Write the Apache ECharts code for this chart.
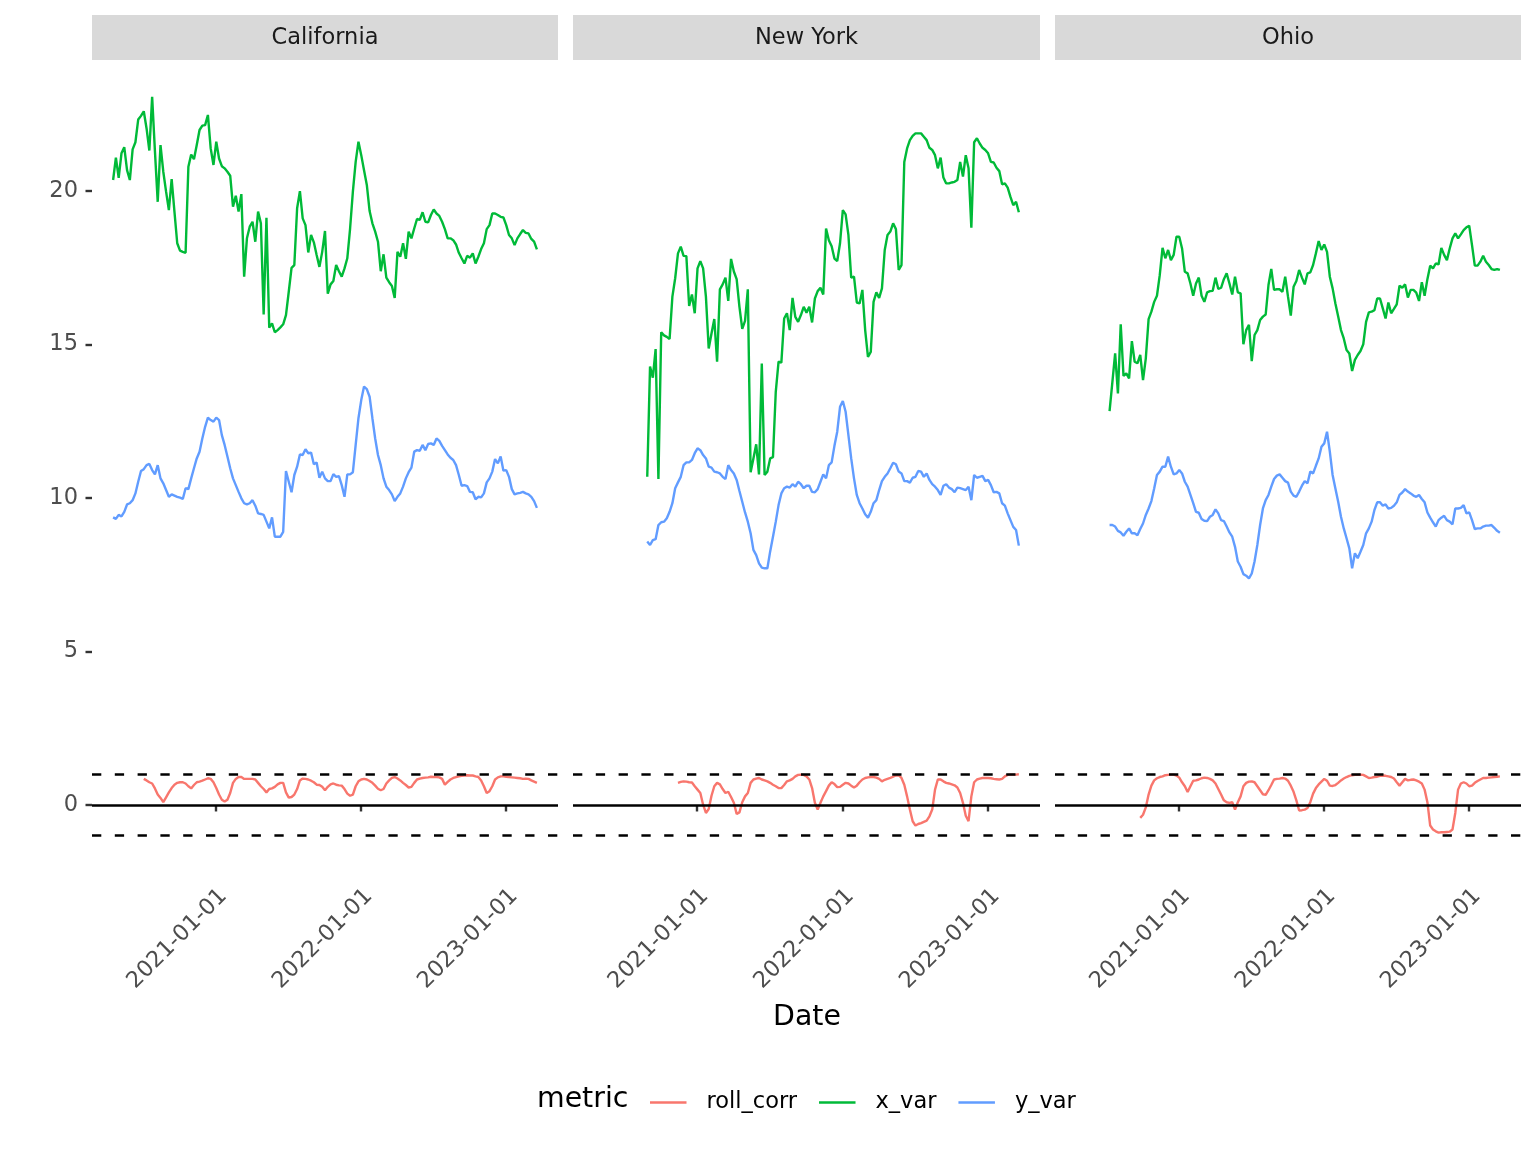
<!DOCTYPE html>
<html>
<head>
<meta charset="utf-8">
<script src="https://cdn.jsdelivr.net/npm/echarts@6.0.0/dist/echarts.min.js"></script>
<style>
  html, body { margin: 0; padding: 0; background: #ffffff; }
  #chart { width: 1536px; height: 1152px; }
</style>
</head>
<body>
<div id="chart"></div>
<script>
// ---------------- DATA ----------------
// Weekly observations; week 0 = 2020-04-19
const firstWeekDate = [2020, 3, 19];
const panelNames = ['California', 'New York', 'Ohio'];
const metricNames = ['roll_corr', 'x_var', 'y_var'];
const xTickLabels = ['2021-01-01', '2022-01-01', '2023-01-01'];
const yTickValues = [0, 5, 10, 15, 20];
const refLines = [0, 1, -1];

// California (x_var / y_var start week 0, roll_corr start week 11)
const caXVarStart = 0;
const caXVar = [
  20.36,21.09,20.43,21.23,21.43,20.68,20.36,21.36,21.59,22.33,
  22.45,22.6,22.04,21.32,23.07,21.3,19.65,21.5,20.63,19.98,
  19.38,20.39,19.33,18.3,18.06,18.02,17.99,20.79,21.19,21.04,
  21.5,21.99,22.13,22.15,22.48,21.39,20.85,21.61,21.06,20.81,
  20.74,20.63,20.5,19.49,19.85,19.33,19.9,17.21,18.46,18.84,
  19.0,18.35,19.33,18.95,15.98,19.13,15.55,15.69,15.4,15.47,
  15.56,15.66,15.96,16.72,17.5,17.59,19.44,20.0,19.11,18.89,
  18.0,18.57,18.33,17.92,17.53,18.02,18.7,16.66,16.96,17.07,
  17.59,17.39,17.21,17.48,17.81,18.78,19.98,20.95,21.61,21.17,
  20.68,20.2,19.35,18.95,18.68,18.35,17.39,17.94,17.18,17.03,
  16.91,16.52,18.02,17.86,18.3,17.79,18.68,18.46,18.78,19.09,
  19.06,19.31,19.0,18.98,19.22,19.4,19.27,19.19,19.0,18.76,
  18.46,18.46,18.4,18.26,17.99,17.81,17.64,17.89,17.83,17.97,
  17.64,17.86,18.11,18.3,18.76,18.89,19.27,19.27,19.22,19.16,
  19.14,18.89,18.57,18.46,18.24,18.46,18.6,18.73,18.64,18.62,
  18.44,18.35,18.1
];
const caYVarStart = 0;
const caYVar = [
  9.37,9.32,9.45,9.4,9.55,9.79,9.83,9.93,10.15,10.53,
  10.88,10.94,11.07,11.11,10.91,10.77,11.07,10.64,10.48,10.26,
  10.04,10.12,10.08,10.04,10.01,9.97,10.32,10.29,10.64,10.97,
  11.29,11.51,11.94,12.32,12.62,12.54,12.49,12.62,12.54,12.05,
  11.73,11.35,10.97,10.64,10.42,10.2,9.99,9.83,9.79,9.83,
  9.93,9.75,9.5,9.48,9.45,9.23,9.01,9.37,8.74,8.74,
  8.74,8.9,10.88,10.53,10.19,10.75,11.02,11.42,11.4,11.59,
  11.46,11.48,11.1,11.16,10.66,10.86,10.64,10.55,10.55,10.78,
  10.69,10.71,10.42,10.04,10.77,10.77,10.84,11.73,12.6,13.19,
  13.63,13.55,13.3,12.6,11.94,11.4,11.07,10.64,10.37,10.26,
  10.12,9.9,10.04,10.15,10.37,10.64,10.84,10.99,11.51,11.56,
  11.54,11.73,11.56,11.76,11.78,11.73,11.94,11.86,11.7,11.56,
  11.42,11.31,11.24,11.07,10.75,10.4,10.42,10.39,10.2,10.19,
  9.96,10.04,10.02,10.15,10.51,10.64,10.86,11.27,11.13,11.35,
  10.89,10.91,10.69,10.29,10.12,10.15,10.17,10.2,10.15,10.12,
  10.04,9.9,9.68
];
const caRollCorrStart = 11;
const caRollCorr = [
  0.85,0.80,0.74,0.70,0.54,0.34,0.23,0.09,0.25,0.41,
  0.55,0.66,0.72,0.74,0.74,0.70,0.61,0.54,0.65,0.74,
  0.76,0.79,0.83,0.87,0.85,0.74,0.55,0.34,0.17,0.11,
  0.17,0.39,0.72,0.85,0.91,0.91,0.85,0.85,0.85,0.85,
  0.83,0.72,0.61,0.52,0.41,0.52,0.54,0.59,0.67,0.72,
  0.72,0.41,0.24,0.26,0.34,0.52,0.80,0.86,0.85,0.83,
  0.79,0.74,0.66,0.65,0.59,0.48,0.59,0.67,0.70,0.66,
  0.64,0.63,0.52,0.37,0.30,0.34,0.61,0.77,0.83,0.85,
  0.83,0.78,0.72,0.63,0.53,0.48,0.52,0.70,0.80,0.88,
  0.91,0.86,0.80,0.72,0.65,0.57,0.59,0.72,0.83,0.86,
  0.88,0.89,0.90,0.92,0.91,0.91,0.90,0.85,0.66,0.75,
  0.83,0.88,0.91,0.93,0.95,0.96,0.97,0.96,0.96,0.93,
  0.91,0.80,0.61,0.39,0.45,0.61,0.83,0.90,0.93,0.93,
  0.92,0.91,0.90,0.89,0.88,0.87,0.85,0.86,0.85,0.80,
  0.76,0.72
];

// New York (x_var / y_var start week 19, roll_corr start week 30)
const nyXVarStart = 19;
const nyXVar = [
  10.69,14.28,13.92,14.85,10.62,15.4,15.3,15.25,15.18,16.56,
  17.16,17.97,18.19,17.89,17.88,16.26,16.63,16.02,17.48,17.72,
  17.48,16.56,14.87,15.36,15.83,14.44,16.80,16.96,17.18,16.42,
  17.79,17.38,17.13,16.23,15.51,15.77,16.80,10.84,11.29,11.75,
  10.77,14.38,10.75,10.86,11.29,11.33,13.46,14.44,14.41,15.85,
  16.02,15.47,16.52,15.9,15.74,15.96,16.23,16.04,16.23,15.72,
  16.50,16.74,16.85,16.63,18.78,18.40,18.2,17.8,17.72,18.3,
  19.38,19.24,18.57,17.18,17.21,16.37,16.34,16.78,15.47,14.6,
  14.76,16.39,16.7,16.52,16.83,18.08,18.57,18.68,18.95,18.76,
  17.43,17.59,20.95,21.39,21.66,21.80,21.88,21.88,21.88,21.77,
  21.66,21.41,21.34,21.17,20.74,21.09,20.44,20.25,20.25,20.28,
  20.30,20.36,20.95,20.47,21.17,20.74,18.81,21.59,21.72,21.55,
  21.41,21.34,21.23,20.95,20.93,20.76,20.65,20.22,20.25,20.11,
  19.81,19.54,19.65,19.31
];
const nyYVarStart = 19;
const nyYVar = [
  8.58,8.47,8.63,8.66,9.12,9.21,9.23,9.34,9.55,9.83,
  10.32,10.51,10.69,11.07,11.16,11.16,11.24,11.46,11.62,11.56,
  11.4,11.29,11.02,10.99,10.86,10.84,10.8,10.69,10.62,11.07,
  10.91,10.8,10.59,10.23,9.88,9.53,9.23,8.85,8.31,8.14,
  7.87,7.73,7.71,7.71,8.26,8.74,9.23,9.77,10.15,10.32,
  10.37,10.34,10.45,10.37,10.53,10.45,10.32,10.4,10.4,10.2,
  10.19,10.29,10.53,10.77,10.64,11.07,11.16,11.7,12.16,12.97,
  13.16,12.81,12.05,11.29,10.64,10.10,9.83,9.66,9.47,9.36,
  9.55,9.83,9.93,10.26,10.55,10.69,10.8,10.97,11.15,11.1,
  10.86,10.8,10.55,10.55,10.5,10.66,10.69,10.88,10.86,10.69,
  10.8,10.59,10.45,10.37,10.26,10.10,10.4,10.45,10.34,10.29,
  10.19,10.34,10.32,10.29,10.26,10.37,9.93,10.75,10.66,10.69,
  10.72,10.55,10.59,10.42,10.19,10.2,10.15,9.83,9.75,9.5,
  9.28,9.06,8.96,8.45
];
const nyRollCorrStart = 30;
const nyRollCorr = [
  0.72,0.75,0.77,0.76,0.74,0.73,0.61,0.50,0.39,0.01,
  -0.26,-0.13,0.30,0.61,0.72,0.67,0.52,0.39,0.43,0.26,
  0.07,-0.29,-0.24,0.09,0.28,0.39,0.72,0.83,0.86,0.88,
  0.83,0.80,0.77,0.72,0.66,0.61,0.55,0.55,0.65,0.77,
  0.80,0.85,0.93,0.98,0.99,0.98,0.93,0.83,0.55,0.07,
  -0.15,0.07,0.28,0.45,0.63,0.74,0.68,0.58,0.59,0.66,
  0.72,0.70,0.63,0.57,0.63,0.74,0.83,0.88,0.90,0.91,
  0.91,0.89,0.85,0.77,0.82,0.85,0.88,0.92,0.96,0.97,
  0.88,0.66,0.28,-0.15,-0.53,-0.67,-0.62,-0.59,-0.55,-0.51,
  -0.37,-0.15,0.50,0.83,0.83,0.77,0.72,0.70,0.67,0.64,
  0.57,0.39,0.07,-0.35,-0.53,0.28,0.74,0.83,0.86,0.88,
  0.88,0.88,0.87,0.85,0.84,0.83,0.85,0.93,0.98,0.99,
  0.99,0.99,1.0
];

// Ohio (x_var / y_var start week 12, roll_corr start week 23)
const ohXVarStart = 12;
const ohXVar = [
  12.83,13.77,14.71,13.41,15.66,13.98,14.06,13.9,15.11,14.44,
  14.39,14.66,13.84,14.55,15.83,16.07,16.39,16.59,17.26,18.15,
  17.81,18.08,17.75,17.92,18.51,18.51,18.13,17.37,17.32,16.99,
  16.59,16.99,17.18,16.59,16.39,16.7,16.74,16.75,17.18,16.81,
  16.85,17.13,17.32,16.99,16.63,17.21,16.7,16.67,15.01,15.47,
  15.64,14.46,15.31,15.47,15.8,15.91,15.98,16.94,17.46,16.78,
  16.8,16.8,16.72,17.21,16.56,15.94,16.88,17.07,17.43,17.18,
  16.96,17.32,17.35,17.59,17.97,18.37,18.08,18.26,18.02,17.21,
  16.83,16.34,15.91,15.47,15.2,14.82,14.71,14.14,14.5,14.66,
  14.79,15.01,15.74,16.05,16.07,16.12,16.5,16.5,16.18,15.85,
  16.37,16.02,16.16,16.31,16.92,16.85,16.96,16.53,16.78,16.78,
  16.69,16.42,17.03,16.59,17.13,17.57,17.48,17.64,17.61,18.15,
  17.92,17.75,18.13,18.46,18.62,18.46,18.59,18.73,18.82,18.87,
  18.24,17.57,17.57,17.7,17.89,17.7,17.59,17.46,17.43,17.46,17.43
];
const ohYVarStart = 12;
const ohYVar = [
  9.12,9.12,9.07,8.93,8.88,8.77,8.9,9.01,8.85,8.85,
  8.79,8.99,9.17,9.45,9.66,9.9,10.31,10.75,10.86,11.02,
  11.02,11.35,11.02,10.77,10.8,10.91,10.8,10.53,10.37,10.1,
  9.83,9.55,9.52,9.32,9.26,9.25,9.39,9.45,9.63,9.5,
  9.28,9.25,9.07,8.88,8.74,8.41,7.93,7.76,7.52,7.47,
  7.38,7.54,7.93,8.47,9.12,9.66,9.93,10.1,10.37,10.62,
  10.73,10.77,10.66,10.55,10.5,10.21,10.08,10.04,10.21,10.4,
  10.55,10.48,10.86,10.8,11.05,11.29,11.67,11.78,12.16,11.51,
  10.75,10.31,9.88,9.39,9.01,8.69,8.36,7.71,8.2,8.04,
  8.25,8.47,8.85,9.01,9.23,9.61,9.86,9.86,9.75,9.79,
  9.66,9.68,9.75,9.86,10.1,10.18,10.29,10.21,10.15,10.08,
  10.04,10.1,9.97,9.86,9.53,9.36,9.21,9.07,9.28,9.36,
  9.42,9.28,9.23,9.14,9.66,9.66,9.68,9.77,9.5,9.53,
  9.28,8.99,9.01,9.01,9.07,9.1,9.1,9.12,9.03,8.93,8.87
];
const ohRollCorrStart = 23;
const ohRollCorr = [
  -0.42,-0.32,-0.08,0.34,0.63,0.80,0.87,0.91,0.93,0.97,
  0.98,0.99,0.99,0.96,0.89,0.74,0.61,0.42,0.61,0.79,
  0.80,0.83,0.87,0.89,0.88,0.85,0.80,0.70,0.52,0.34,
  0.15,0.09,0.07,0.09,-0.15,0.09,0.28,0.61,0.72,0.76,
  0.77,0.74,0.61,0.48,0.35,0.33,0.48,0.65,0.83,0.85,
  0.86,0.88,0.86,0.79,0.63,0.43,0.15,-0.18,-0.17,-0.15,
  -0.10,0.09,0.37,0.55,0.67,0.76,0.85,0.79,0.63,0.62,
  0.65,0.72,0.80,0.86,0.91,0.95,0.97,0.98,0.98,0.99,
  0.98,0.93,0.88,0.89,0.91,0.92,0.95,0.96,0.95,0.93,
  0.91,0.86,0.74,0.63,0.74,0.85,0.80,0.82,0.83,0.80,
  0.76,0.70,0.50,0.09,-0.67,-0.80,-0.86,-0.90,-0.89,-0.89,
  -0.88,-0.87,-0.80,-0.26,0.50,0.70,0.74,0.70,0.61,0.63,
  0.72,0.78,0.83,0.88,0.88,0.89,0.90,0.91,0.92,0.93
];

// ---------------- BUILD ----------------
function weekTime(k) {
  return new Date(firstWeekDate[0], firstWeekDate[1], firstWeekDate[2] + 7 * k).getTime();
}
function toPairs(values, start) {
  return values.map(function (v, i) { return [weekTime(start + i), v]; });
}
function parseDay(s) {
  const p = s.split('-').map(Number);
  return new Date(p[0], p[1] - 1, p[2]).getTime();
}
function pad(n) { return (n < 10 ? '0' : '') + n; }
function fmtDate(v) {
  const d = new Date(Math.round(v));
  return d.getFullYear() + '-' + pad(d.getMonth() + 1) + '-' + pad(d.getDate());
}

const panelData = [
  { roll: toPairs(caRollCorr, caRollCorrStart), x: toPairs(caXVar, caXVarStart), y: toPairs(caYVar, caYVarStart) },
  { roll: toPairs(nyRollCorr, nyRollCorrStart), x: toPairs(nyXVar, nyXVarStart), y: toPairs(nyYVar, nyYVarStart) },
  { roll: toPairs(ohRollCorr, ohRollCorrStart), x: toPairs(ohXVar, ohXVarStart), y: toPairs(ohYVar, ohYVarStart) }
];

const FONT = 'DejaVu Sans';
const SMALL = 22.5;
const colors = { roll_corr: '#F8766D', x_var: '#00BA38', y_var: '#619CFF' };
const panelLeft = [92, 573, 1055];
const panelWidth = [466, 467, 466];
const panelTop = 60;
const panelHeight = 812.5;
const xTicks = xTickLabels.map(parseDay);
const xMin = parseDay('2020-02-26');
const xMax = parseDay('2023-05-11');

const grids = [], xAxes = [], yAxes = [], series = [], graphics = [];

panelNames.forEach(function (name, i) {
  grids.push({ left: panelLeft[i], top: panelTop, width: panelWidth[i], height: panelHeight,
    containLabel: false, outerBoundsMode: 'none' });
  // dates are kept as millisecond timestamps on a numeric axis
  xAxes.push({
    type: 'value', gridIndex: i, min: xMin, max: xMax, scale: true,
    axisLine: { show: false },
    splitLine: { show: false },
    minorTick: { show: false },
    axisTick: { show: true, customValues: xTicks, length: 6.5, lineStyle: { color: '#333333', width: 2.4 } },
    axisLabel: { show: true, customValues: xTicks, rotate: 45, margin: 12,
      align: 'right', verticalAlign: 'top',
      color: '#4D4D4D', fontSize: SMALL, fontFamily: FONT,
      formatter: function (v) { return fmtDate(v); } }
  });
  yAxes.push({
    type: 'value', gridIndex: i, min: -2.2, max: 24.27,
    axisLine: { show: false },
    splitLine: { show: false },
    axisTick: { show: i === 0, customValues: yTickValues, length: 6.5, lineStyle: { color: '#333333', width: 2.4 } },
    axisLabel: { show: i === 0, customValues: yTickValues, margin: 14,
      color: '#4D4D4D', fontSize: SMALL, fontFamily: FONT }
  });

  const d = panelData[i];
  const seriesSpec = [['roll_corr', d.roll], ['x_var', d.x], ['y_var', d.y]];
  seriesSpec.forEach(function (spec, j) {
    const s = {
      type: 'line', name: spec[0], xAxisIndex: i, yAxisIndex: i,
      data: spec[1], showSymbol: false, symbol: 'none',
      color: colors[spec[0]],
      lineStyle: { color: colors[spec[0]], width: 2.4 },
      itemStyle: { color: colors[spec[0]] },
      animation: false, silent: true, z: 2 + j
    };
    if (j === 0) {
      s.markLine = {
        silent: true, symbol: 'none', animation: false,
        label: { show: false },
        lineStyle: { color: '#000000', width: 2.5 },
        data: refLines.map(function (v) {
          return { yAxis: v, lineStyle: { color: '#000000', width: 2.5, type: v === 0 ? 'solid' : [9.3, 13.5] } };
        })
      };
    }
    series.push(s);
  });

  // facet strip
  graphics.push({ type: 'rect', left: panelLeft[i], top: 15, silent: true,
    shape: { width: panelWidth[i], height: 45 }, style: { fill: '#D9D9D9' } });
  graphics.push({ type: 'text', silent: true,
    x: panelLeft[i] + panelWidth[i] / 2, y: 38,
    style: { text: name, fill: '#1A1A1A', font: SMALL + 'px "DejaVu Sans"', align: 'center', verticalAlign: 'middle' } });
});

graphics.push({ type: 'text', silent: true, x: 807, y: 1018,
  style: { text: 'Date', fill: '#000000', font: '28.4px "DejaVu Sans"', align: 'center', verticalAlign: 'middle' } });
graphics.push({ type: 'text', silent: true, x: 537, y: 1100,
  style: { text: 'metric', fill: '#000000', font: '28.4px "DejaVu Sans"', align: 'left', verticalAlign: 'middle' } });

const option = {
  backgroundColor: '#ffffff',
  animation: false,
  grid: grids,
  xAxis: xAxes,
  yAxis: yAxes,
  series: series,
  legend: {
    left: 645, top: 1086, orient: 'horizontal',
    icon: 'rect', itemWidth: 36.5, itemHeight: 2.4, itemGap: 22,
    selectedMode: false,
    data: metricNames,
    textStyle: { fontSize: SMALL, color: '#000000', fontFamily: FONT, padding: [0, 0, 0, 15] }
  },
  graphic: graphics
};

const chart = echarts.init(document.getElementById('chart'), null, { renderer: 'canvas', width: 1536, height: 1152 });
chart.setOption(option);
</script>
</body>
</html>
